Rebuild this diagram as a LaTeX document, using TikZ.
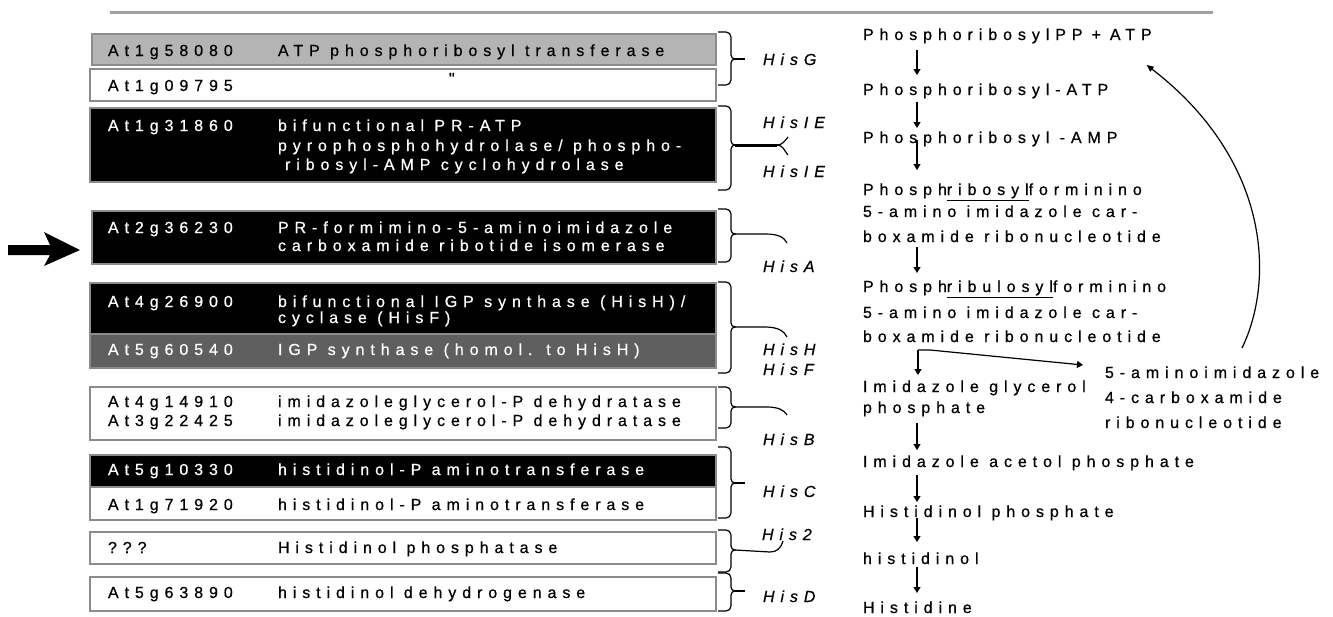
\documentclass[tikz,border=0pt]{standalone}
\usepackage{fontspec}
\setmainfont{Liberation Sans}
\newfontfamily\bmfont[LetterSpace=37,FakeBold=0.6]{Liberation Sans}
\usetikzlibrary{calc,fit,arrows.meta}
\definecolor{boxgray}{HTML}{8C8C8C}
\definecolor{lightfill}{HTML}{B4B4B4}
\definecolor{darkfill}{HTML}{5F5F5F}
\definecolor{rulegray}{HTML}{A0A0A0}
\newcommand\mybrace[3]{\draw[brc] (718,#1) -- (726,#1) to[out=0,in=90] (731,#1+5) -- (731,#2-4) to[out=-90,in=180] (735,#2) to[out=180,in=90] (731,#2+4) -- (731,#3-5) to[out=-90,in=0] (726,#3) -- (718,#3);}
\begin{document}
\begin{tikzpicture}[x=1pt,y=-1pt,
  every node/.style={inner sep=0pt,outer sep=0pt},
  txt/.style={anchor=base west,font=\bmfont\fontsize{16}{18}\selectfont},
  wtxt/.style={txt,text=white},
  lbl/.style={anchor=base west,font=\bmfont\itshape\fontsize{16}{18}\selectfont},
  box/.style={draw=boxgray,line width=1.5pt},
  brc/.style={line width=1.2pt},
  tipline/.style={line width=1.2pt},
  parr/.style={line width=1.2pt,-{Triangle[length=6pt,width=7pt]}},
  carr/.style={line width=1.2pt,-{Triangle[length=7pt,width=6pt]}}]
\useasboundingbox (0,0) rectangle (1333,616);
\fill[white] (0,0) rectangle (1333,616);
% top rule
\draw[rulegray,line width=3pt] (110,12) -- (1213,12);
% big arrow
\fill (8,245) -- (50,245) -- (44,232) -- (80,250) -- (44,266) -- (50,255) -- (8,255) -- cycle;
% boxes
\node[box,fill=lightfill,fit={(92,34) (716,65)}] (b1) {};
\node[box,fill=white,fit={(90,69) (716,101)}] (b2) {};
\node[box,fill=black,fit={(90,108) (716,182)}] (b3) {};
\node[box,fill=black,fit={(92,211) (716,264)}] (b4) {};
\node[box,fill=black,fit={(90,283) (716,334)}] (b5) {};
\node[box,fill=darkfill,fit={(90,334) (716,368)}] (b5b) {};
\node[box,fill=white,fit={(90,387) (716,440)}] (b6) {};
\node[box,fill=black,fit={(90,455) (716,487)}] (b7) {};
\node[box,fill=white,fit={(90,487) (716,520)}] (b7b) {};
\node[box,fill=white,fit={(90,532) (716,564)}] (b8) {};
\node[box,fill=white,fit={(90,577) (716,611)}] (b9) {};
% box texts
\node[txt] (i1) at (108,56) {At1g58080};
\node[txt] (d1) at (278,56) {ATP phosphoribosyl transferase};
\node[txt] (i2) at (108,91) {At1g09795};
\node[txt] (d2) at (449,84) {"};
\node[wtxt] (i3) at (108,131) {At1g31860};
\node[wtxt] (d3a) at (278,131) {bifunctional PR-ATP};
\node[wtxt] (d3b) at (278,151) {pyrophosphohydrolase/ phospho-};
\node[wtxt] (d3c) at (285,170) {ribosyl-AMP cyclohydrolase};
\node[wtxt] (i4) at (108,233) {At2g36230};
\node[wtxt] (d4a) at (278,233) {PR-formimino-5-aminoimidazole};
\node[wtxt] (d4b) at (278,251) {carboxamide ribotide isomerase};
\node[wtxt] (i5) at (108,307) {At4g26900};
\node[wtxt] (d5a) at (278,307) {bifunctional IGP synthase (HisH)/};
\node[wtxt] (d5b) at (278,323) {cyclase (HisF)};
\node[wtxt] (i5b) at (108,355) {At5g60540};
\node[wtxt] (d5c) at (278,355) {IGP synthase (homol. to HisH)};
\node[txt] (i6a) at (108,407) {At4g14910};
\node[txt] (d6a) at (278,407) {imidazoleglycerol-P dehydratase};
\node[txt] (i6b) at (108,426) {At3g22425};
\node[txt] (d6b) at (278,426) {imidazoleglycerol-P dehydratase};
\node[wtxt] (i7) at (108,475) {At5g10330};
\node[wtxt] (d7) at (278,475) {histidinol-P aminotransferase};
\node[txt] (i7b) at (108,510) {At1g71920};
\node[txt] (d7b) at (278,510) {histidinol-P aminotransferase};
\node[txt] (i8) at (108,553) {???};
\node[txt] (d8) at (278,553) {Histidinol phosphatase};
\node[txt] (i9) at (108,598) {At5g63890};
\node[txt] (d9) at (278,598) {histidinol dehydrogenase};
% braces
\mybrace{32}{59}{85}
\mybrace{106}{145}{190}
\mybrace{209}{234}{262}
\mybrace{282}{327}{373}
\mybrace{387}{407}{428}
\mybrace{447}{483}{518}
\mybrace{530}{550}{572}
\mybrace{573}{591}{611}
% labels
\node[lbl] (hG) at (763,65) {HisG};
\node[lbl] (hIE1) at (763,128) {HisIE};
\node[lbl] (hIE2) at (763,177) {HisIE};
\node[lbl] (hA) at (763,272) {HisA};
\node[lbl] (hH) at (763,355) {HisH};
\node[lbl] (hF) at (763,375) {HisF};
\node[lbl] (hB) at (763,445) {HisB};
\node[lbl] (hC) at (763,497) {HisC};
\node[lbl] (h2) at (762,540) {His2};
\node[lbl] (hD) at (763,602) {HisD};
% brace tips
\coordinate (tG) at (735,59);
\coordinate (tIE) at (735,145);
\coordinate (tA) at (735,234);
\coordinate (tHF) at (735,327);
\coordinate (tB) at (735,407);
\coordinate (tC) at (735,483);
\coordinate (t2) at (735,550);
\coordinate (tD) at (735,591);
\draw[tipline] (tG) -- ++(10,0);
\draw[tipline] (tC) -- ++(10,0);
\draw[tipline] (tD) -- ++(10,0);
\draw[line width=3pt] (tIE) -- ++(42,0) coordinate (jIE);
\draw[tipline] (jIE) to[out=0,in=-130] (788,137);
\draw[tipline] (jIE) to[out=0,in=130] (788,155);
\draw[tipline] (tA) -- (765,234) .. controls (778,234) and (784,237) .. (787,243);
\draw[tipline] (tHF) -- (765,327) .. controls (778,327) and (784,331) .. (787,337);
\draw[tipline] (tB) -- (767,407) .. controls (778,407) and (784,410) .. (787,415);
\draw[tipline] (t2) -- (770,552) .. controls (777,552) and (781,548) .. (783,541);
% pathway
\node[txt] (p1) at (863,40) {PhosphoribosylPP\hspace{9pt}+\hspace{9pt}ATP};
\node[txt] (p2) at (863,95) {Phosphoribosyl-ATP};
\node[txt] (p3) at (863,143) {Phosphoribosyl -AMP};
\node[txt] (p4a) at (863,195) {Phosph\underline{ribosyl}forminino};
\node[txt] (p4b) at (863,217) {5-amino imidazole car-};
\node[txt] (p4c) at (863,242) {boxamide ribonucleotide};
\node[txt] (p5a) at (863,292) {Phosph\underline{ribulosyl}forminino};
\node[txt] (p5b) at (863,318) {5-amino imidazole car-};
\node[txt] (p5c) at (863,342) {boxamide ribonucleotide};
\node[txt] (p6a) at (863,392) {Imidazole glycerol};
\node[txt] (p6b) at (863,413) {phosphate};
\node[txt] (q1) at (1105,378) {5-aminoimidazole};
\node[txt] (q2) at (1105,403) {4-carboxamide};
\node[txt] (q3) at (1105,428) {ribonucleotide};
\node[txt] (p7) at (863,467) {Imidazole acetol phosphate};
\node[txt] (p8) at (863,517) {Histidinol phosphate};
\node[txt] (p9) at (863,564) {histidinol};
\node[txt] (p10) at (863,613) {Histidine};
% pathway arrows
\draw[parr] ($(p1.base west)+(54,10)$) -- ($(p2.base west)+(54,-20)$);
\draw[parr] ($(p2.base west)+(54,7)$) -- ($(p3.base west)+(54,-15)$);
\draw[parr] ($(p3.base west)+(54,-3)$) -- ($(p4a.base west)+(54,-25)$);
\draw[parr] ($(p4c.base west)+(54,5)$) -- ($(p5a.base west)+(54,-19)$);
\coordinate (br) at ($(p5c.base west)+(55,8)$);
\draw[parr] (br) -- ($(p6a.base west)+(55,-17)$);
\draw[parr] (br) -- ++(12,0) -- ($(q1.base west)+(-22,-13)$);
\draw[parr] ($(p6b.base west)+(54,10)$) -- ($(p7.base west)+(54,-17)$);
\draw[parr] ($(p7.base west)+(54,8)$) -- ($(p8.base west)+(54,-15)$);
\draw[parr] ($(p8.base west)+(54,1)$) -- ($(p9.base west)+(54,-22)$);
\draw[parr] ($(p9.base west)+(54,3)$) -- ($(p10.base west)+(54,-20)$);
\draw[carr] ($(q1.base west)+(137,-30)$) .. controls (1275,280) and (1270,160) .. ($(p1.base east)+(-5,25)$);
\end{tikzpicture}
\end{document}
